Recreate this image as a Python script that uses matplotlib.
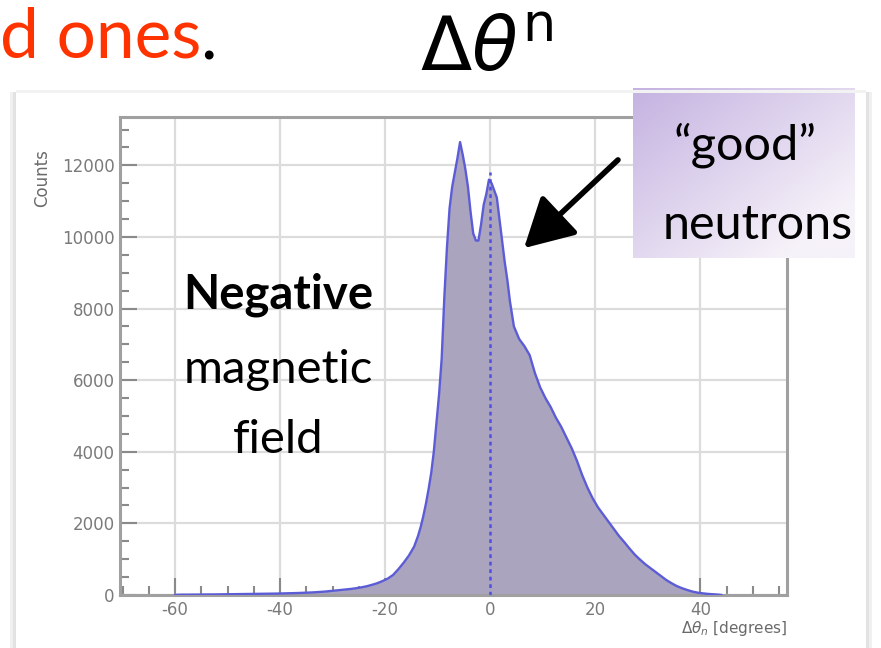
import numpy as np
import matplotlib
matplotlib.use("Agg")
import matplotlib.pyplot as plt
from matplotlib.patches import FancyArrowPatch, Rectangle

plt.rcParams["axes.unicode_minus"] = False

# ---------------- data ----------------
# 1-degree bins from -60 to -14
tail_left_counts = [8, 10, 10, 12, 12, 14, 15, 16, 18, 20, 22, 24, 26, 28, 30, 32,
                    34, 36, 38, 40, 44, 48, 52, 56, 62, 68, 75, 85, 95, 110, 125,
                    140, 155, 170, 190, 215, 245, 285, 330, 390, 460, 560, 720,
                    900, 1100, 1350]
# 0.5-degree bins from -14 to 4
core_counts = [1650, 1900, 2200, 2550, 2950, 3400, 4000, 4800, 5600, 6600, 8300,
               9700, 10800, 11400, 11800, 12200, 12650, 12300, 11900, 11400,
               10700, 10100, 9900, 9900, 10350, 10900, 11200, 11600, 11500,
               11300, 11100, 10500, 9900, 9300, 8800, 8200]
# 1-degree bins from 4 to 44
tail_right_counts = [7500, 7150, 6950, 6700, 6200, 5800, 5500, 5250, 4950, 4700,
                     4400, 4100, 3750, 3350, 3000, 2700, 2450, 2250, 2050, 1850,
                     1650, 1480, 1300, 1130, 990, 860, 750, 640, 530, 420, 330,
                     250, 190, 140, 95, 65, 45, 30, 20, 10]

x_ticks = [-60, -40, -20, 0, 20, 40]
y_ticks = [0, 2000, 4000, 6000, 8000, 10000, 12000]
dashed_line_x = 0
dashed_line_top = 11800

edges = np.concatenate([np.arange(-60, -14, 1.0),
                        np.arange(-14, 4, 0.5),
                        np.arange(4, 45, 1.0)])
counts = np.array(tail_left_counts + core_counts + tail_right_counts, dtype=float)
centers = np.concatenate([np.arange(-59.5, -14, 1.0),
                          np.arange(-13.75, 4, 0.5),
                          np.arange(4.5, 44, 1.0)])
xs = np.concatenate([[edges[0]], centers, [edges[-1]]])
ys = np.concatenate([[0], counts, [0]])

# ---------------- figure ----------------
W, H = 881, 648
fig = plt.figure(figsize=(W / 100, H / 100), dpi=100)
fig.patch.set_facecolor("white")


def fx(x):
    return x / W


def fy(y):
    return 1 - y / H


# panel shadow border
for (x0, y0, w, h, c) in [(10, 92, 3, 556, "#f0f0f0"), (13, 92, 3, 556, "#e2e2e2"),
                          (866, 92, 3, 556, "#e2e2e2"), (869, 92, 3, 556, "#f0f0f0"),
                          (16, 90, 850, 3, "#f2f2f2")]:
    fig.patches.append(Rectangle((fx(x0), fy(y0 + h)), w / W, h / H,
                                 transform=fig.transFigure, facecolor=c,
                                 edgecolor="none", zorder=0))

left, right, top, bottom = 120, 787, 117, 595
ax = fig.add_axes([fx(left), fy(bottom), (right - left) / W, (bottom - top) / H])
ax.set_xlim(-70.5, 56.5)
ax.set_ylim(0, 13350)

ax.fill_between(xs, ys, 0, color="#aaa4bf", linewidth=0, zorder=2)
ax.plot(xs, ys, color="#5c5cd6", linewidth=1.7, zorder=3)
ax.plot([dashed_line_x, dashed_line_x], [0, dashed_line_top], color="#5050e0",
        linestyle=(0, (1.5, 1.5)), linewidth=1.8, zorder=4)

ax.set_xticks(x_ticks)
ax.set_yticks(y_ticks)
ax.set_xticks(np.arange(-70, 56, 5), minor=True)
ax.set_yticks(np.arange(0, 13350, 500), minor=True)
ax.grid(True, which="major", color="#dcdcdc", linewidth=1.6, zorder=1)
ax.tick_params(which="both", direction="in", color="#8a8a8a", width=1.5,
               labelcolor="#7a7a7a", labelsize=12, top=False, right=False)
ax.tick_params(which="major", length=12, pad=4)
ax.tick_params(which="minor", length=6.5)
for lab in ax.get_xticklabels() + ax.get_yticklabels():
    lab.set_family("DejaVu Sans")
for s in ax.spines.values():
    s.set_color("#a0a0a0")
    s.set_linewidth(2.2)

fig.text(fx(42), fy(178), "Counts", rotation=90, ha="center", va="center",
         color="#6a6a6a", fontsize=12, family="DejaVu Sans")
fig.text(fx(787), fy(628), r"$\Delta\theta_{n}$ [degrees]", ha="right",
         va="center", color="#6a6a6a", fontsize=11, family="DejaVu Sans")

# annotations
hand = ["Lato", "DejaVu Sans"]
fig.text(fx(278), fy(295), "Negative", ha="center", va="center", fontsize=34,
         family=hand, color="black", fontweight="bold")
fig.text(fx(278), fy(370), "magnetic", ha="center", va="center", fontsize=34,
         family=hand, color="black")
fig.text(fx(278), fy(440), "field", ha="center", va="center", fontsize=34,
         family=hand, color="black")

fig.text(fx(487), fy(50), r"$\Delta\theta^{\mathrm{n}}$", ha="center", va="center",
         fontsize=54, color="black")
fig.text(fx(0), fy(38), "d ones", ha="left", va="center", fontsize=50,
         family=hand, color="#ff3300")
fig.text(fx(200), fy(40), ".", ha="left", va="center", fontsize=50,
         family=hand, color="black")

# purple gradient box
bx0, by0, bx1, by1 = 633, 88, 855, 258
bax = fig.add_axes([fx(bx0), fy(by1), (bx1 - bx0) / W, (by1 - by0) / H])
gx, gy = np.meshgrid(np.linspace(0, 1, 200), np.linspace(0, 1, 150))
t = np.clip((gx * 0.6 + gy * 0.6), 0, 1)[..., None]
c0 = np.array([196, 178, 225]) / 255
c1 = np.array([246, 242, 249]) / 255
bax.imshow(c0 * (1 - t) + c1 * t, aspect="auto", origin="upper")
bax.axis("off")
fig.text(fx(745), fy(145), "\u201cgood\u201d", ha="center", va="center",
         fontsize=35, family=hand, color="black")
fig.text(fx(758), fy(225), "neutrons", ha="center", va="center",
         fontsize=35, family=hand, color="black")

# arrow
arr = FancyArrowPatch((fx(620), fy(158)), (fx(522), fy(250)),
                      transform=fig.transFigure,
                      arrowstyle="-|>,head_length=20,head_width=11",
                      color="black", linewidth=4, mutation_scale=1.5, zorder=10)
fig.patches.append(arr)

fig.savefig("out.png", dpi=100)
